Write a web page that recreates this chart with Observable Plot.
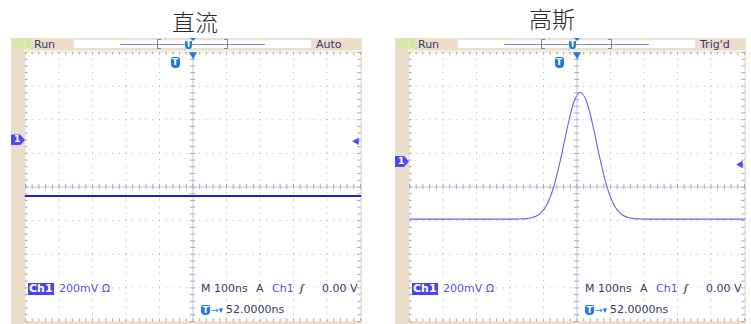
<!DOCTYPE html>
<html><head><meta charset="utf-8">
<script src="https://cdn.jsdelivr.net/npm/d3@7"></script>
<script src="https://cdn.jsdelivr.net/npm/@observablehq/plot@0.6"></script>
<style>
body{margin:0;background:#fff;}
#root{position:relative;width:751px;height:324px;overflow:hidden;font-family:"DejaVu Sans",sans-serif;}
.a{position:absolute;white-space:nowrap;}
.title{font-family:"Noto Sans CJK SC",sans-serif;font-size:23px;font-weight:300;color:#2a2a2a;line-height:1;}
.bar{font-size:11px;line-height:11px;color:#34346e;}
.ro{font-size:11px;line-height:12px;color:#38386a;}
.tic{background:#1f7ae8;color:#fff;font:bold 9px/10px "DejaVu Sans",sans-serif;text-align:center;border-radius:2px 2px 4px 4px;width:9px;height:11px;}
</style></head><body><div id="root"></div>
<script>
// ---- data ----
const panelTitles = ["直流", "高斯"];
const statusLeft = ["Tek", "Run"];
const statusRight = ["Auto", "Trig'd"];
const readVolt = "200mV Ω";
const readTime = ["M 100ns", "A", "Ch1", "0.00 V"];
const readDelay = "52.0000ns";
// trace 1: DC (ns, mV)
const dcTime = [-500, -250, 0, 250, 500];
const dcVolt = [-54, -54, -54, -54, -54];
// trace 2: Gaussian pulse (ns, mV)
const gaussTime = [-500, -300, -210, -190, -170, -150, -130, -110, -90, -70, -50, -30, -10, 10, 30, 50, 70, 90, 110, 130, 150, 170, 190, 210, 300, 500];
const gaussVolt = [-191, -191, -191, -191, -190, -188, -180, -158, -105, -3, 155, 343, 501, 564, 501, 343, 155, -3, -105, -158, -180, -188, -190, -191, -191, -191];
// markers
const ch1Level = [274, 146];     // mV (channel marker on the left)
const trigLevel = [272, 134];    // mV (trigger level arrow on the right)
const trigTime = -52;            // ns
// grid ticks
const xMajor = [-500, -400, -300, -200, -100, 100, 200, 300, 400, 500];
const yMajor = [-800, -600, -400, -200, 200, 400, 600, 800];
const xMinor = d3.range(-500, 501, 20);
const yMinor = d3.range(-800, 801, 40);

const root = document.getElementById("root");
function el(parent, cls, css, html) {
  const d = document.createElement("div");
  d.className = cls;
  Object.assign(d.style, css);
  if (html != null) d.innerHTML = html;
  parent.appendChild(d);
  return d;
}

const panels = [
  {ox: 0, tx: 195, ty: 10, t: dcTime, v: dcVolt, color: "#2222cc", w: 2},
  {ox: 384, tx: 552, ty: 7, t: gaussTime, v: gaussVolt, color: "#6262f4", w: 1.1}
];

panels.forEach((p, i) => {
  el(root, "a title", {left: (p.tx - 60) + "px", top: p.ty + "px", width: "120px", textAlign: "center"}, panelTitles[i]);
  const g = el(root, "a", {left: p.ox + "px", top: "0px", width: "375px", height: "324px"});
  // beige frame
  el(g, "a", {left: "11px", top: "38px", width: "351px", height: "286px", background: "#ecdccb"});
  el(g, "a", {left: "24px", top: "50px", width: "337px", height: "2px", background: "#f5f0d8"});
  // status white box
  el(g, "a", {left: "73px", top: "39px", width: "239px", height: "10px", background: "#fff", boxSizing: "border-box", border: "1px solid #e4e0dc"});
  el(g, "a", {left: "120px", top: "44px", width: "145px", height: "1px", background: "#8888f0"});
  el(g, "a", {left: "157px", top: "39px", width: "4px", height: "10px", boxSizing: "border-box", borderLeft: "1px solid #888", borderTop: "1px solid #888", borderBottom: "1px solid #888"});
  el(g, "a", {left: "224px", top: "39px", width: "4px", height: "10px", boxSizing: "border-box", borderRight: "1px solid #888", borderTop: "1px solid #888", borderBottom: "1px solid #888"});
  el(g, "a tic", {left: "185px", top: "40px", width: "7px", height: "9px", lineHeight: "9px", fontSize: "8px"}, "T");
  el(g, "a", {left: "190px", top: "38px", width: "0", height: "0", borderLeft: "3px solid transparent", borderRight: "3px solid transparent", borderTop: "3px solid #1f7ae8"});
  el(g, "a bar", {left: "11px", top: "39px", color: "#bdf08e", fontWeight: "bold", fontSize: "12px"}, statusLeft[0]);
  el(g, "a bar", {left: "34px", top: "39px"}, statusLeft[1]);
  el(g, "a bar", {left: "316px", top: "39px"}, statusRight[i]);

  // the plot
  const data = p.t.map((t, k) => ({t, v: p.v[k]}));
  const grid = {stroke: "#b0b0b0", strokeDasharray: "1 5.7"};
  const ctr = {stroke: "#c6c6dc"};
  const tk = {stroke: "#a8a8c4"};
  const chart = Plot.plot({
    width: 375, height: 324,
    marginLeft: 25, marginRight: 15, marginTop: 52, marginBottom: 3,
    x: {domain: [-500, 500], axis: null},
    y: {domain: [-800, 800], axis: null},
    style: {background: "transparent", overflow: "visible"},
    marks: [
      Plot.frame({fill: "#fff", stroke: null}),
      Plot.ruleX(xMajor, {x: d => d, ...grid}),
      Plot.ruleY(yMajor, {y: d => d, ...grid}),
      Plot.ruleX([0], {x: d => d, ...ctr}),
      Plot.ruleY([0], {y: d => d, ...ctr}),
      Plot.ruleX(xMinor, {x: d => d, y1: -16, y2: 16, ...tk}),
      Plot.ruleY(yMinor, {y: d => d, x1: -8, x2: 8, ...tk}),
      Plot.ruleX(xMinor, {x: d => d, y1: 800, y2: 784, ...tk}),
      Plot.ruleX(xMinor, {x: d => d, y1: -800, y2: -784, ...tk}),
      Plot.ruleY(yMinor, {y: d => d, x1: -500, x2: -492, ...tk}),
      Plot.ruleY(yMinor, {y: d => d, x1: 500, x2: 492, ...tk}),
      Plot.line(data, {x: "t", y: "v", stroke: p.color, strokeWidth: p.w, curve: "monotone-x"}),
      Plot.dot([0], {x: d => d, y: () => 800, symbol: "triangle", rotate: 180, r: 3, fill: "#1f7ae8", dy: 2}),
      Plot.dot([trigLevel[i]], {x: () => 500, y: d => d, symbol: "triangle", rotate: -90, r: 2.8, fill: "#4d4df2", dx: -4}),
      Plot.ruleY([trigLevel[i]], {y: d => d, x1: 486, x2: 498, stroke: "#4d4df2", strokeWidth: 1.5})
    ]
  });
  chart.style.position = "absolute";
  chart.style.left = "0px";
  chart.style.top = "0px";
  g.appendChild(chart);
  const xs = chart.scale("x"), ys = chart.scale("y");

  // channel marker
  const cy = ys.apply(ch1Level[i]);
  el(g, "a", {left: "11px", top: (cy - 6) + "px", width: "14px", height: "11px", background: "#4c4cf0",
    clipPath: "polygon(0 0, 9px 0, 14px 50%, 9px 100%, 0 100%)", color: "#fff", font: "bold 9px/11px 'DejaVu Sans',sans-serif", textIndent: "3px"}, "1");
  // trigger T icon
  const tx = xs.apply(trigTime);
  el(g, "a tic", {left: (tx - 4.5) + "px", top: "57px"}, "T");

  // readouts
  el(g, "a ro", {left: "28px", top: "283px", background: "#4646ee", color: "#fff", padding: "0 1px", fontWeight: "bold"}, "Ch1");
  el(g, "a ro", {left: "59px", top: "283px", color: "#5252e6"}, readVolt);
  el(g, "a ro", {left: "201px", top: "283px"}, readTime[0]);
  el(g, "a ro", {left: "256px", top: "283px"}, readTime[1]);
  el(g, "a ro", {left: "272px", top: "283px", color: "#5252e6"}, readTime[2]);
  el(g, "a ro", {left: "300px", top: "283px", color: "#222", fontStyle: "italic"}, "ʃ");
  el(g, "a ro", {left: "322px", top: "283px"}, readTime[3]);
  el(g, "a tic", {left: "201px", top: "305px", width: "9px", height: "10px"}, "T");
  el(g, "a ro", {left: "211px", top: "304px", color: "#1f7ae8", fontSize: "9px"}, "→▾");
  el(g, "a ro", {left: "226px", top: "304px"}, readDelay);
});
</script></body></html>
